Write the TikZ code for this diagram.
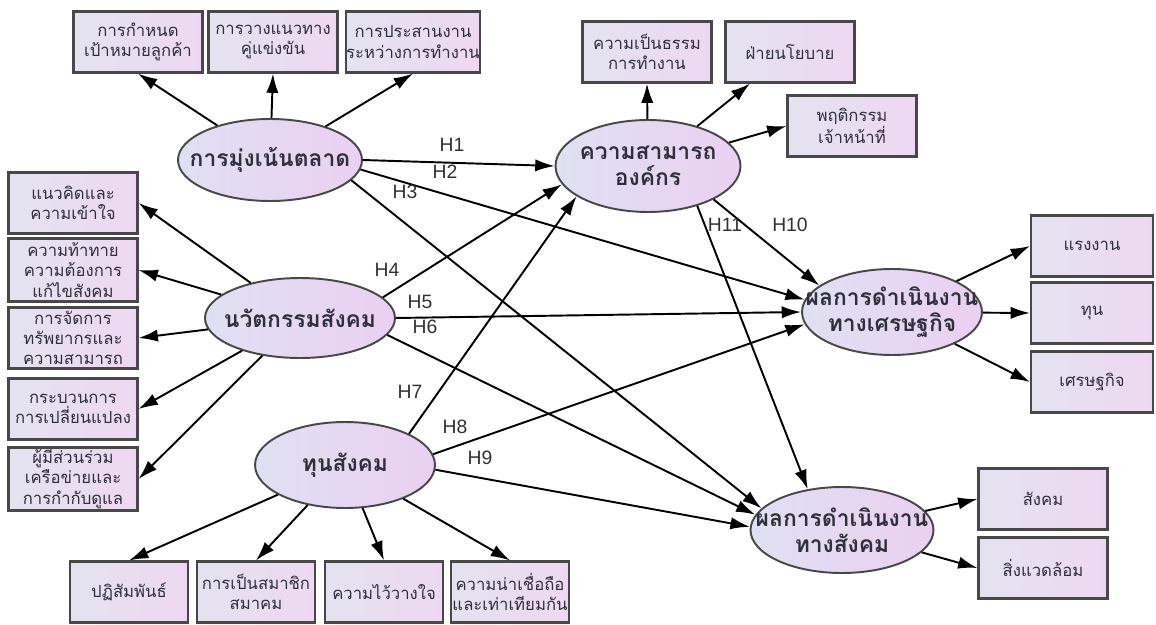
\documentclass[tikz,border=0pt]{standalone}
\usepackage{fontspec}
\setmainfont{Liberation Sans}
\newfontfamily\thaifont[Script=Thai]{Loma}
\usetikzlibrary{shapes.geometric,arrows.meta}

\definecolor{boxL}{HTML}{E3E3EF}
\definecolor{boxR}{HTML}{EED8F1}
\definecolor{ellL}{HTML}{E0E0F2}
\definecolor{ellR}{HTML}{EAD0F1}
\definecolor{edgegray}{HTML}{484848}
\definecolor{txtgray}{HTML}{30303C}

\begin{document}
\begin{tikzpicture}[x=0.02cm, y=-0.02cm,
    box/.style={draw=edgegray, line width=1.2pt, left color=boxL, right color=boxR,
      minimum width=2.58cm, minimum height=1.22cm, inner sep=0pt, align=center,
      text=txtgray, font=\thaifont\fontsize{9.5}{11.5}\selectfont},
    latent/.style={ellipse, draw=edgegray, line width=1.1pt, left color=ellL, right color=ellR,
      inner sep=0pt},
    ltext/.style={align=center, text=txtgray, font=\thaifont\bfseries\fontsize{13}{15}\selectfont},
    link/.style={-{Latex[length=11pt,width=7pt]}, line width=1.1pt},
    hlab/.style={text=txtgray, font=\fontsize{11}{13}\selectfont}
  ]
  \useasboundingbox (0,0) rectangle (1156,625);

  % latent variables
  \node[latent, minimum width=3.68cm, minimum height=1.64cm,
    label={[ltext]center:การมุ่งเน้นตลาด}] (mkt) at (270,160) {};
  \node[latent, minimum width=3.7cm, minimum height=1.84cm,
    label={[ltext]center:ความสามารถ\\องค์กร}] (cap) at (648,166) {};
  \node[latent, minimum width=3.8cm, minimum height=1.6cm,
    label={[ltext]center:นวัตกรรมสังคม}] (inno) at (300,318) {};
  \node[latent, minimum width=3.6cm, minimum height=1.72cm,
    label={[ltext]center:ทุนสังคม}] (soc) at (345,465) {};
  \node[latent, minimum width=3.6cm, minimum height=1.72cm,
    label={[ltext]center:ผลการดำเนินงาน\\ทางเศรษฐกิจ}] (econ) at (892,312) {};
  \node[latent, minimum width=3.66cm, minimum height=1.72cm,
    label={[ltext]center:ผลการดำเนินงาน\\ทางสังคม}] (sperf) at (842,530) {};

  % indicators
  \node[box] (t1) at (138,42) {การกำหนด\\เป้าหมายลูกค้า};
  \node[box] (t2) at (273,42) {การวางแนวทาง\\คู่แข่งขัน};
  \node[box] (t3) at (413,42) {การประสานงาน\\ระหว่างการทำงาน};

  \node[box] (c1) at (647,52) {ความเป็นธรรม\\การทำงาน};
  \node[box] (c2) at (790,52) {ฝ่ายนโยบาย};
  \node[box] (c3) at (852,126) {พฤติกรรม\\เจ้าหน้าที่};

  \node[box] (l1) at (73,203) {แนวคิดและ\\ความเข้าใจ};
  \node[box, minimum height=1.26cm] (l2) at (73,270) {ความท้าทาย\\ความต้องการ\\แก้ไขสังคม};
  \node[box] (l3) at (73,338) {การจัดการ\\ทรัพยากรและ\\ความสามารถ};
  \node[box] (l4) at (73,409) {กระบวนการ\\การเปลี่ยนแปลง};
  \node[box, minimum height=1.26cm] (l5) at (73,479) {ผู้มีส่วนร่วม\\เครือข่ายและ\\การกำกับดูแล};

  \node[box, minimum width=2.36cm] (b1) at (129,592) {ปฏิสัมพันธ์};
  \node[box, minimum width=2.36cm] (b2) at (256,592) {การเป็นสมาชิก\\สมาคม};
  \node[box, minimum width=2.36cm] (b3) at (384,592) {ความไว้วางใจ};
  \node[box, minimum width=2.36cm] (b4) at (510,592) {ความน่าเชื่อถือ\\และเท่าเทียมกัน};

  \node[box, minimum width=2.44cm] (r1) at (1092,246) {แรงงาน};
  \node[box, minimum width=2.44cm] (r2) at (1092,313) {ทุน};
  \node[box, minimum width=2.44cm] (r3) at (1092,382) {เศรษฐกิจ};
  \node[box] (r4) at (1043,499) {สังคม};
  \node[box] (r5) at (1043,568) {สิ่งแวดล้อม};

  % measurement arrows
  \draw[link] (mkt) -- (t1.south);
  \draw[link] (mkt) -- (t2.south);
  \draw[link] (mkt) -- (t3.south);
  \draw[link] (cap) -- (c1.south);
  \draw[link] (cap) -- ([xshift=-0.8cm]c2.south);
  \draw[link] (cap) -- (c3.west);
  \draw[link] (inno) -- (l1.east);
  \draw[link] (inno) -- (l2.east);
  \draw[link] (inno) -- (l3.east);
  \draw[link] (inno) -- (l4.east);
  \draw[link] (inno) -- (l5.east);
  \draw[link] (soc) -- (b1.north);
  \draw[link] (soc) -- (b2.north);
  \draw[link] (soc) -- (b3.north);
  \draw[link] (soc) -- (b4.north);
  \draw[link] (econ) -- (r1.west);
  \draw[link] (econ) -- (r2.west);
  \draw[link] (econ) -- (r3.west);
  \draw[link] (sperf) -- (r4.west);
  \draw[link] (sperf) -- (r5.west);

  % hypotheses
  \draw[link] (mkt.0) -- (cap.180);
  \draw[link] (mkt.-6) -- (econ.172);
  \draw[link] (mkt.-14) -- (sperf.165);
  \draw[link] (inno.14) -- (cap.192);
  \draw[link] (inno.0) -- (econ.180);
  \draw[link] (inno.-11) -- (sperf.170);
  \draw[link] (soc.26) -- (cap.203);
  \draw[link] (soc.7) -- (econ.188);
  \draw[link] (soc.-3) -- (sperf.178);
  \draw[link] (cap.-27) -- (econ.160);
  \draw[link] (cap.-39) -- (sperf.130);

  \node[hlab] (h1) at (452,145) {H1};
  \node[hlab] (h2) at (445,172) {H2};
  \node[hlab] (h3) at (405,192) {H3};
  \node[hlab] (h4) at (387,270) {H4};
  \node[hlab] (h5) at (420,302) {H5};
  \node[hlab] (h6) at (425,327) {H6};
  \node[hlab] (h7) at (410,392) {H7};
  \node[hlab] (h8) at (455,427) {H8};
  \node[hlab] (h9) at (480,458) {H9};
  \node[hlab] (h10) at (790,225) {H10};
  \node[hlab] (h11) at (725,225) {H11};
\end{tikzpicture}
\end{document}
